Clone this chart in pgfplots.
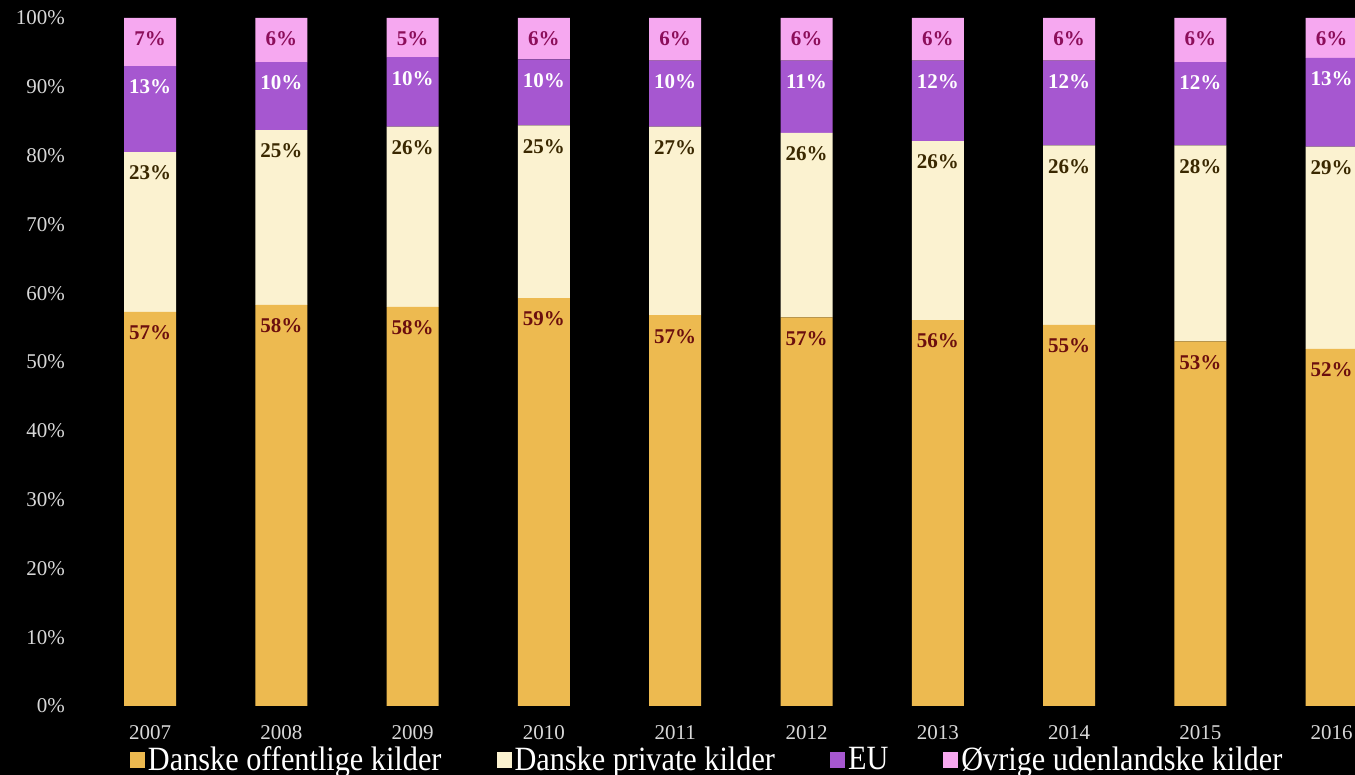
\documentclass[border=0pt]{standalone}
\usepackage{pgfplots}
\usepackage{pgfplotstable}
\pgfplotsset{compat=1.18}
\usepackage{fontspec}
\setmainfont{Liberation Serif}
\newfontfamily\legfont{Liberation Serif}[FakeStretch=0.89]
\definecolor{cOff}{HTML}{EDBA50}
\definecolor{cPriv}{HTML}{FBF2D0}
\definecolor{cEU}{HTML}{A657D0}
\definecolor{cOvr}{HTML}{F6A8F0}
\definecolor{lOff}{HTML}{6B0E0E}
\definecolor{lPriv}{HTML}{3A2800}
\definecolor{lOvr}{HTML}{8C0E5A}
\definecolor{tickc}{HTML}{D8D8D8}

\pgfplotstableread{
x y lab
0 57.3 57
1 58.3 58
2 58.0 58
3 59.3 59
4 56.8 57
5 56.5 57
6 56.1 56
7 55.4 55
8 53.0 53
9 51.9 52
}\offentlige
\pgfplotstableread{
x y lab
0 23.2 23
1 25.4 25
2 26.2 26
3 25.1 25
4 27.4 27
5 26.8 26
6 26.0 26
7 26.1 26
8 28.5 28
9 29.4 29
}\privat
\pgfplotstableread{
x y lab
0 12.5 13
1 9.9 10
2 10.1 10
3 9.6 10
4 9.6 10
5 10.5 11
6 11.7 12
7 12.3 12
8 12.1 12
9 12.9 13
}\eu
\pgfplotstableread{
x y lab
0 7.0 7
1 6.4 6
2 5.7 5
3 6.0 6
4 6.2 6
5 6.2 6
6 6.2 6
7 6.2 6
8 6.4 6
9 5.8 6
}\ovrige

\begin{document}
\begin{tikzpicture}
\path[fill=black, use as bounding box] (-42pt,-34.5pt) rectangle (635.5pt,353pt);
\begin{axis}[
  at={(0pt,0pt)}, anchor=south west,
  scale only axis,
  width=635.5pt, height=344pt,
  ybar stacked,
  bar width=26pt,
  xmin=-0.5027, xmax=9.1775,
  ymin=0, ymax=100,
  axis line style={draw=none},
  tick style={draw=none},
  major tick length=0pt,
  xtick={0,...,9},
  xticklabels={2007,2008,2009,2010,2011,2012,2013,2014,2015,2016},
  ytick={0,10,...,100},
  yticklabels={0\%,10\%,20\%,30\%,40\%,50\%,60\%,70\%,80\%,90\%,100\%},
  ticklabel style={font=\fontsize{10.5}{12}\selectfont, text=tickc},
  yticklabel style={anchor=east, xshift=-6pt},
  xticklabel style={anchor=north, yshift=-6pt},
  point meta=explicit symbolic,
  visualization depends on={rawy \as \segh},
  nodes near coords={\pgfplotspointmeta\%},
  every node near coord/.append style={font=\bfseries\fontsize{10.5}{12}\selectfont, anchor=center, yshift={\segh*1.72pt-10.5pt}},
  legend columns=4,
  legend style={at={(axis description cs:0,0)}, anchor=west, xshift=23pt, yshift=-27pt,
    draw=none, fill=none, inner sep=0pt, outer sep=0pt,
    font=\legfont\fontsize{17}{18}\selectfont, text=white,
    /tikz/every even column/.append style={column sep=26pt},
    nodes={inner sep=1.5pt}},
  legend image code/.code={\fill[#1,draw=none] (0pt,-3.8pt) rectangle (7.5pt,3.8pt);},
]
\addplot[fill=cOff, draw=none, every node near coord/.append style={text=lOff}] table[x=x,y=y,meta=lab]{\offentlige};
\addlegendentry{Danske offentlige kilder}
\addplot[fill=cPriv, draw=none, every node near coord/.append style={text=lPriv}] table[x=x,y=y,meta=lab]{\privat};
\addlegendentry{Danske private kilder\hspace{9pt}}
\addplot[fill=cEU, draw=none, every node near coord/.append style={text=white}] table[x=x,y=y,meta=lab]{\eu};
\addlegendentry{EU}
\addplot[fill=cOvr, draw=none, every node near coord/.append style={text=lOvr}] table[x=x,y=y,meta=lab]{\ovrige};
\addlegendentry{Øvrige udenlandske kilder}
\end{axis}
\end{tikzpicture}
\end{document}
